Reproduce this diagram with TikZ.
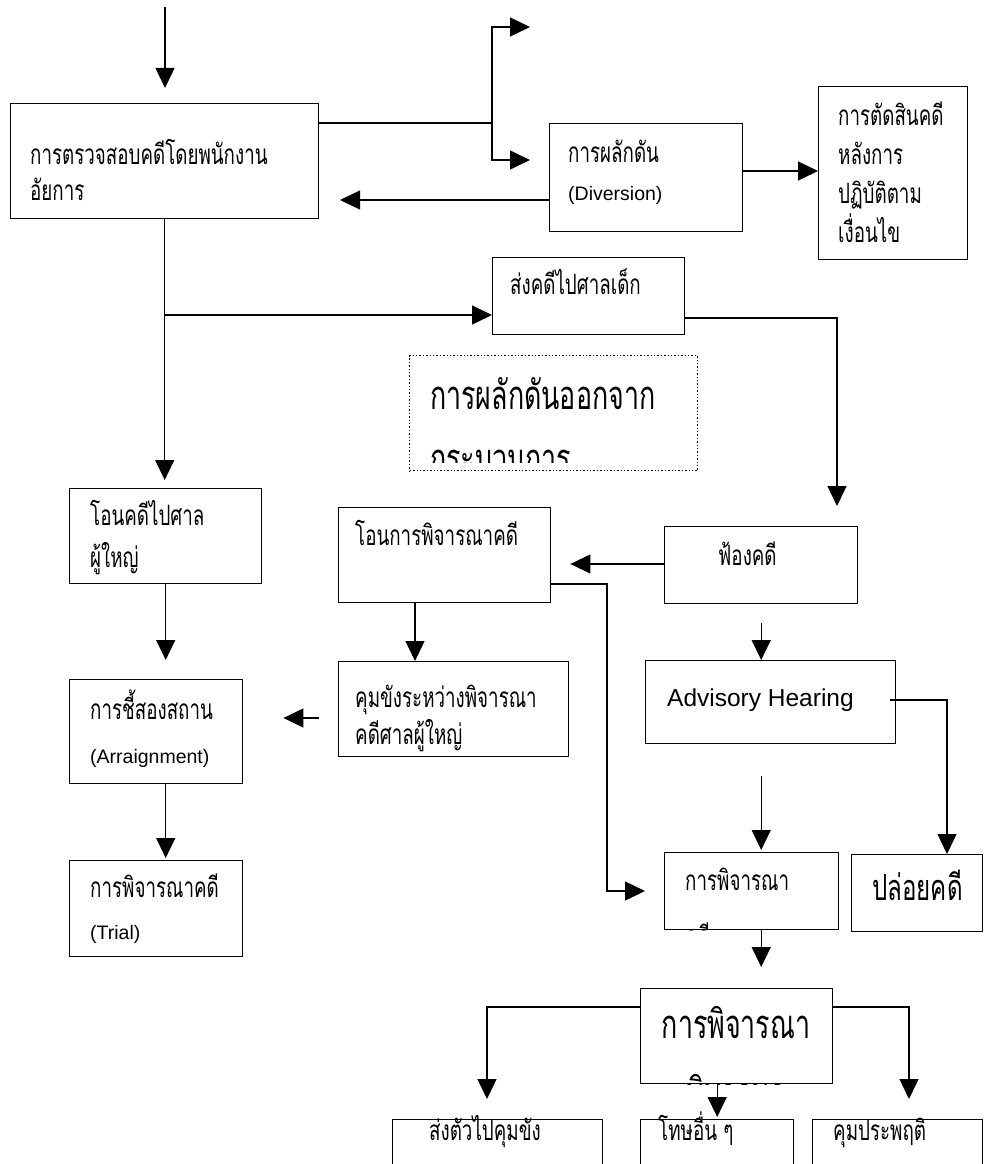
\documentclass[tikz,border=0pt]{standalone}
\usepackage{fontspec}
\setmainfont{Liberation Sans}
\newfontfamily\thaifont[Script=Thai, FakeStretch=0.67]{Loma}
\newfontfamily\lsans{Liberation Sans}
\newcommand{\tsz}[2]{\thaifont\fontsize{#1}{#2}\selectfont}
\newcommand{\lsz}[1]{\lsans\fontsize{#1}{#1}\selectfont}
\usetikzlibrary{arrows.meta,positioning,calc}
\tikzset{
    box/.style    = {draw, line width=1.4pt, anchor=north west, inner sep=0pt},
    dotbox/.style = {box, dotted},
    txt/.style    = {anchor=base west, align=left, inner sep=0pt, font=\tsz{28}{36}},
    bigtxt/.style = {txt, font=\tsz{40}{55}},
    link/.style   = {line width=1.4pt},
    arr/.style    = {link, -{Triangle[length=20pt,width=19pt]}}
}

\begin{document}
\begin{tikzpicture}[x=1pt, y=-1pt]
        \useasboundingbox (0,0) rectangle (984,1164);
        \clip (0,0) rectangle (984,1164);

        % Boxes
        \node[box, minimum width=308pt, minimum height=115pt] (exam) at (10,103) {};
        \node[box, minimum width=193pt, minimum height=108pt] (div) at (549,123) {};
        \node[box, minimum width=149pt, minimum height=173pt] (judge) at (818,86) {};
        \node[box, minimum width=192pt, minimum height=77pt] (juv) at (492,257) {};
        \node[dotbox, minimum width=288pt, minimum height=115pt] (dot) at (409,355) {};
        \node[box, minimum width=193pt, minimum height=77pt] (sue) at (664,526) {};
        \node[box, minimum width=212pt, minimum height=95pt] (transfer) at (338,507) {};
        \node[box, minimum width=230pt, minimum height=95pt] (detain) at (338,661) {};
        \node[box, minimum width=192pt, minimum height=95pt] (adult) at (69,488) {};
        \node[box, minimum width=173pt, minimum height=104pt] (arraign) at (69,679) {};
        \node[box, minimum width=173pt, minimum height=96pt] (trial) at (69,860) {};
        \node[box, minimum width=250pt, minimum height=83pt] (adv) at (645,660) {};
        \node[box, minimum width=174pt, minimum height=77pt] (trialc) at (664,852) {};
        \node[box, minimum width=131pt, minimum height=77pt] (release) at (851,854) {};
        \node[box, minimum width=192pt, minimum height=95pt] (big) at (640,988) {};
        \node[box, minimum width=210pt, minimum height=80pt] (jail) at (392,1119) {};
        \node[box, minimum width=153pt, minimum height=80pt] (other) at (640,1119) {};
        \node[box, minimum width=170pt, minimum height=80pt] (prob) at (812,1119) {};

        % Texts (placed at the baseline of the last line)
        \node[txt] (examtxt) at (30,200) {การตรวจสอบคดีโดยพนักงาน\\อัยการ};
        \node[txt, font=\tsz{28}{38}] (divtxt) at (568,200) {การผลักดัน\\{\lsz{19.5}(Diversion)}};
        \node[txt, font=\tsz{28}{39}] (judgetxt) at (838,242) {การตัดสินคดี\\หลังการ\\ปฏิบัติตาม\\เงื่อนไข};
        \node[txt] (juvtxt) at (510,294) {ส่งคดีไปศาลเด็ก};
        \node[txt] (suetxt) at (718,565) {ฟ้องคดี};
        \node[txt] (transfertxt) at (355,545) {โอนการพิจารณาคดี};
        \node[txt, font=\tsz{28}{37}] (detaintxt) at (355,744) {คุมขังระหว่างพิจารณา\\คดีศาลผู้ใหญ่};
        \node[txt, font=\tsz{28}{42}] (adulttxt) at (90,567) {โอนคดีไปศาล\\ผู้ใหญ่};
        \node[txt, font=\tsz{28}{44}] (arraigntxt) at (90,763) {การชี้สองสถาน\\{\lsz{19.5}(Arraignment)}};
        \node[txt, font=\tsz{28}{42}] (trialtxt) at (90,939) {การพิจารณาคดี\\{\lsz{19.5}(Trial)}};
        \node[txt, font=\lsz{24.5}] (advtxt) at (667,706) {Advisory Hearing};
        \node[bigtxt, font=\tsz{36}{50}] (releasetxt) at (872,900) {ปล่อยคดี};
        \node[txt] (jailtxt) at (429,1140) {ส่งตัวไปคุมขัง};
        \node[txt] (othertxt) at (658,1140) {โทษอื่น ๆ};
        \node[txt] (probtxt) at (833,1140) {คุมประพฤติ};

        % Clipped texts
        \begin{scope}
            \clip (dot.north west) rectangle ($(dot.south east)+(0pt,9pt)$);
            \node[bigtxt, font=\tsz{40}{63}] (dottxt) at (430,472) {การผลักดันออกจาก\\กระบวนการ};
        \end{scope}
        \begin{scope}
            \clip (trialc.north west) rectangle (trialc.south east);
            \node[txt, font=\tsz{28}{56}] (trialctxt) at (685,946) {การพิจารณา\\คดี};
        \end{scope}
        \begin{scope}
            \clip (big.north west) rectangle (big.south east);
            \node[bigtxt, anchor=base, align=center, font=\tsz{40}{68}] (bigtxt) at (736,1106) {การพิจารณา\\พิพากษา};
        \end{scope}

        % Turning points
        \coordinate (start) at (165,7);
        \coordinate (fork) at (492,123);
        \coordinate (up) at (530,27);
        \coordinate (back) at (340,200);
        \coordinate (jn) at (165,315);
        \coordinate (jturn) at (837,318);
        \coordinate (fb) at (607,891);
        \coordinate (rt) at (947,700);
        \coordinate (bl) at (487,1007);
        \coordinate (br) at (909,1007);

        % Top part
        \draw[arr, shorten >=15pt] (start) -- (start |- exam.north);
        \draw[link] (fork -| exam.east) -- (fork);
        \draw[arr] (fork) |- (up);
        \draw[arr, shorten >=19pt] (fork) |- (div.west |- 0,160);
        \draw[arr] (div.west |- back) -- (back);
        \draw[arr] (div.east |- 0,171) -- (judge.west |- 0,171);

        % Prosecutor branches
        \draw[arr, shorten >=8pt] (exam.south) -- (adult.north -| exam.south);
        \draw[arr] (jn) -- (jn -| juv.west);
        \draw[arr, shorten >=20pt] (jturn -| juv.east) -- (jturn) -- (jturn |- sue.north);

        % Adult court
        \draw[arr, shorten >=19pt] (adult.south) -- (adult.south |- arraign.north);
        \draw[arr, shorten >=2pt] (adult.south |- arraign.south) -- (adult.south |- trial.north);
        \draw[arr, shorten >=19pt] (sue.west |- 0,564) -- (transfer.east |- 0,564);
        \draw[arr] (transfer.south -| 415,0) -- (detain.north -| 415,0);
        \draw[arr, shorten <=19pt, shorten >=40pt] (detain.west |- 0,718) -- (arraign.east |- 0,718);
        \draw[arr, shorten >=19pt] (transfer.east |- 0,584) -| (fb) -- (fb -| trialc.west);

        % Juvenile court
        \draw[arr, shorten <=19pt] (sue.south) -- (sue.south |- adv.north);
        \draw[arr, shorten <=-6pt] (rt -| adv.east) -- (rt) -- (rt |- release.north);
        \draw[arr, shorten <=32pt, shorten >=2pt] (sue.south |- adv.south) -- (sue.south |- trialc.north);
        \draw[arr, shorten >=21pt] (sue.south |- trialc.south) -- (sue.south |- big.north);

        % Sentences
        \draw[arr, shorten >=20pt] (bl -| big.west) -- (bl) -- (bl |- jail.north);
        \draw[arr, shorten >=20pt] (br -| big.east) -- (br) -- (br |- prob.north);
        \draw[arr, shorten >=2pt] (other.north |- big.south) -- (other.north);

\end{tikzpicture}
\end{document}
